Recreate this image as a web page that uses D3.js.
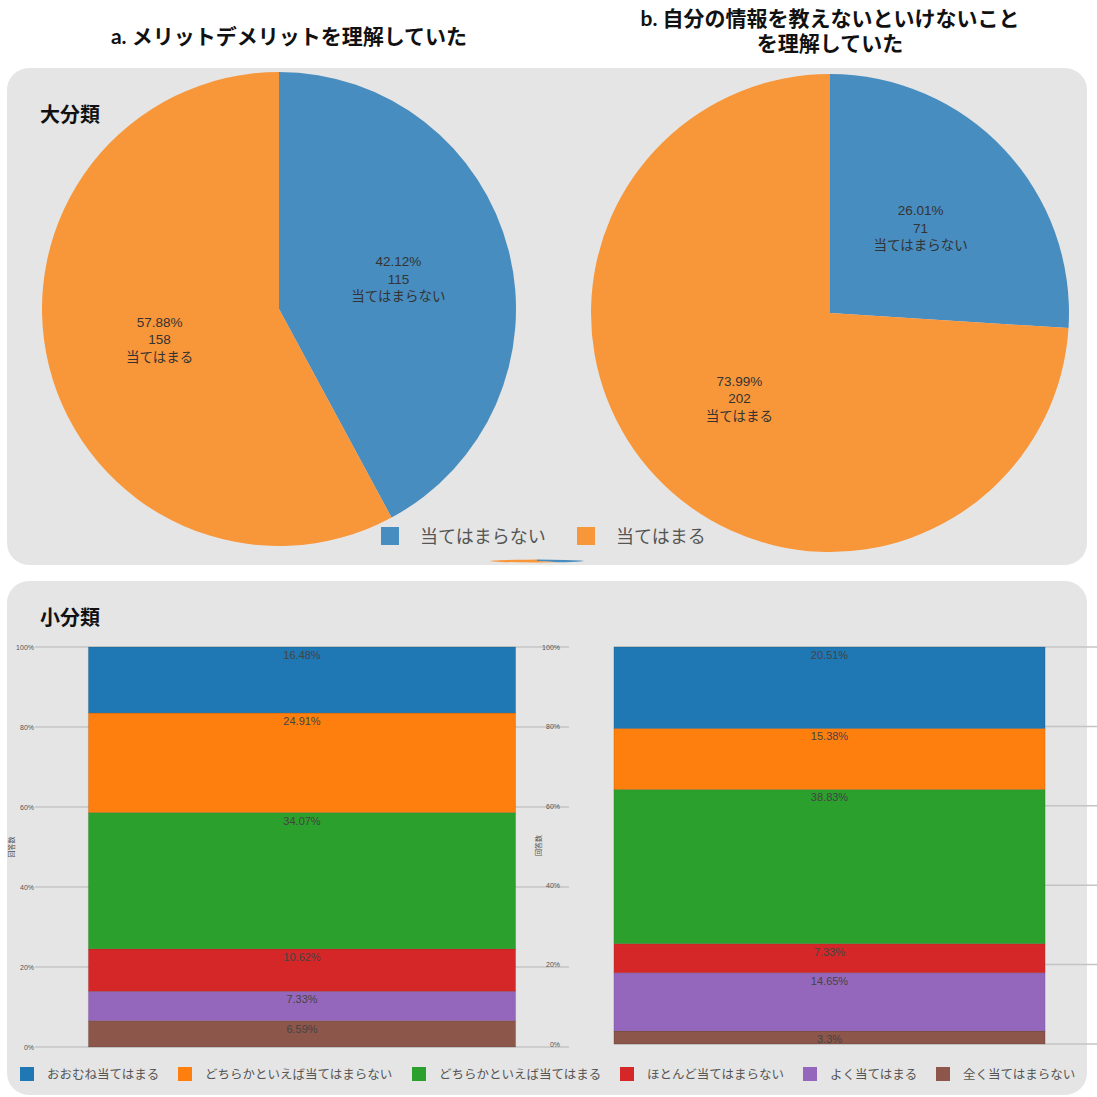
<!DOCTYPE html>
<html>
<head>
<meta charset="utf-8">
<script src="https://d3js.org/d3.v7.min.js"></script>
<style>
  html, body { margin: 0; padding: 0; background: #ffffff; }
  svg { display: block; font-family: "Noto Sans CJK JP", "Noto Sans", sans-serif; }
</style>
</head>
<body>
<svg id="chart" width="1097" height="1097"></svg>
<script>
// ---- data ----
const pieCategories = ["当てはまらない", "当てはまる"];
const pieColors = ["#488dbf", "#f8963a"];
const pieCountsA = [115, 158];
const piePercentsA = [42.12, 57.88];
const pieCountsB = [71, 202];
const piePercentsB = [26.01, 73.99];

// stacked from the bottom up
const barCategories = ["全く当てはまらない", "よく当てはまる", "ほとんど当てはまらない",
  "どちらかといえば当てはまる", "どちらかといえば当てはまらない", "おおむね当てはまる"];
const barColors = ["#8c564b", "#9467bd", "#d62728", "#2ca02c", "#ff7f0e", "#1f77b4"];
const barValuesA = [6.59, 7.33, 10.62, 34.07, 24.91, 16.48];
const barValuesB = [3.3, 14.65, 7.33, 38.83, 15.38, 20.51];
const legendOrder = ["おおむね当てはまる", "どちらかといえば当てはまらない", "どちらかといえば当てはまる",
  "ほとんど当てはまらない", "よく当てはまる", "全く当てはまらない"];
const yTicks = [0, 0.2, 0.4, 0.6, 0.8, 1];

const titleA = ["a. メリットデメリットを理解していた"];
const titleB = ["b. 自分の情報を教えないといけないこと", "を理解していた"];

const svg = d3.select("#chart");
const latinFirst = "Lato, 'Noto Sans CJK JP', sans-serif";
const arialFirst = "'Liberation Sans', 'Noto Sans CJK JP', sans-serif";

// ---- panels ----
svg.append("rect").attr("x", 7).attr("y", 68).attr("width", 1080).attr("height", 497)
  .attr("rx", 22).attr("fill", "#e5e5e5");
svg.append("rect").attr("x", 7).attr("y", 581).attr("width", 1080).attr("height", 514)
  .attr("rx", 22).attr("fill", "#e5e5e5");

// ---- titles ----
function title(lines, cx, y0) {
  lines.forEach((l, i) => svg.append("text").attr("text-anchor", "middle")
    .attr("font-family", latinFirst)
    .attr("font-size", 21).attr("font-weight", 700).attr("fill", "#111")
    .attr("x", cx).attr("y", y0 + i * 25).text(l));
}
title(titleA, 289, 44);
title(titleB, 830, 26);

svg.append("text").attr("x", 40).attr("y", 122).attr("font-size", 20)
  .attr("font-weight", 700).attr("fill", "#111").text("大分類");
svg.append("text").attr("x", 40).attr("y", 625).attr("font-size", 20)
  .attr("font-weight", 700).attr("fill", "#111").text("小分類");

// ---- pies ----
const pie = d3.pie().sort(null).value(d => d);

function drawPie(counts, percents, cx, cy, r) {
  const g = svg.append("g").attr("transform", `translate(${cx},${cy})`);
  const arcs = pie(counts);
  const arc = d3.arc().innerRadius(0).outerRadius(r);
  const labelArc = d3.arc().innerRadius(r * 0.52).outerRadius(r * 0.52);
  g.selectAll("path").data(arcs).join("path")
    .attr("d", arc).attr("fill", (d, i) => pieColors[i]);
  arcs.forEach((d, i) => {
    const [lx, ly] = labelArc.centroid(d);
    [percents[i] + "%", String(counts[i]), pieCategories[i]].forEach((s, k) =>
      g.append("text").attr("x", lx).attr("y", ly + (k - 1) * 17.5 + 5)
        .attr("text-anchor", "middle").attr("font-size", 13.5).attr("fill", "#333")
        .attr("font-family", arialFirst).text(s));
  });
}
drawPie(pieCountsA, piePercentsA, 279, 309, 237);
drawPie(pieCountsB, piePercentsB, 830, 313, 239);

// a flattened copy peeking below the legend
{
  const g = svg.append("g").attr("transform", "translate(537,561) scale(1,0.03)");
  const arc = d3.arc().innerRadius(0).outerRadius(47);
  g.selectAll("path").data(pie(pieCountsA)).join("path")
    .attr("d", arc).attr("fill", (d, i) => pieColors[i]);
}

// pie legend
const pieLegendX = [381, 577];
pieCategories.forEach((c, i) => {
  svg.append("rect").attr("x", pieLegendX[i]).attr("y", 527).attr("width", 18).attr("height", 18)
    .attr("fill", pieColors[i]);
  svg.append("text").attr("x", pieLegendX[i] + 39).attr("y", 543).attr("font-size", 18)
    .attr("fill", "#555").text(c);
});

// ---- stacked bars ----
function drawBar(values, xRange, yRange, gridX0, gridX1, axisX, titleX) {
  const x = d3.scaleBand().domain(["all"]).range(xRange).paddingOuter(0.125);
  const y = d3.scaleLinear().domain([0, 1]).range(yRange);
  const g = svg.append("g");

  g.selectAll("line.grid").data(yTicks).join("line").attr("class", "grid")
    .attr("x1", gridX0).attr("x2", gridX1)
    .attr("y1", d => y(d)).attr("y2", d => y(d))
    .attr("stroke", "#c4c4c4").attr("stroke-width", 1.5);

  const axis = g.append("g").attr("transform", `translate(${axisX},0)`)
    .call(d3.axisLeft(y).tickValues(yTicks).tickFormat(d3.format(".0%")).tickSize(0).tickPadding(1));
  axis.select(".domain").remove();
  axis.selectAll("text").attr("font-size", 7).attr("fill", "#555")
    .attr("font-family", "'Liberation Sans Narrow', 'Liberation Sans', sans-serif");

  g.append("text").attr("transform", `translate(${titleX},${(yRange[0] + yRange[1]) / 2}) rotate(-90)`)
    .attr("text-anchor", "middle").attr("font-size", 7).attr("fill", "#555").text("回答数");

  let acc = 0;
  const segs = values.map((v, i) => {
    const s = { lo: acc, hi: acc + v / 100, v, i };
    acc += v / 100;
    return s;
  });
  g.selectAll("rect.seg").data(segs).join("rect").attr("class", "seg")
    .attr("x", x("all")).attr("width", x.bandwidth())
    .attr("y", d => y(Math.min(d.hi, 1))).attr("height", d => y(d.lo) - y(Math.min(d.hi, 1)))
    .attr("fill", d => barColors[d.i])
    .attr("stroke", "rgba(0,0,0,0.12)").attr("stroke-width", 1);
  g.selectAll("text.lbl").data(segs).join("text").attr("class", "lbl")
    .attr("x", x("all") + x.bandwidth() / 2).attr("y", d => y(Math.min(d.hi, 1)) + 12)
    .attr("text-anchor", "middle").attr("font-size", 11).attr("fill", "#444")
    .attr("font-family", "'Liberation Sans Narrow', 'Liberation Sans', sans-serif")
    .text(d => d.v + "%");
}
drawBar(barValuesA, [35, 569], [1047, 647], 35, 569, 35, 14);
drawBar(barValuesB, [560, 1099], [1044, 647], 614, 1097, 561, 541);

// bottom legend
const legendX = [20, 178, 412, 620, 803, 936];
legendOrder.forEach((c, i) => {
  const col = barColors[barCategories.indexOf(c)];
  svg.append("rect").attr("x", legendX[i]).attr("y", 1067).attr("width", 14).attr("height", 14)
    .attr("fill", col);
  svg.append("text").attr("x", legendX[i] + 27).attr("y", 1079).attr("font-size", 12.5)
    .attr("fill", "#555").text(c);
});
</script>
</body>
</html>
